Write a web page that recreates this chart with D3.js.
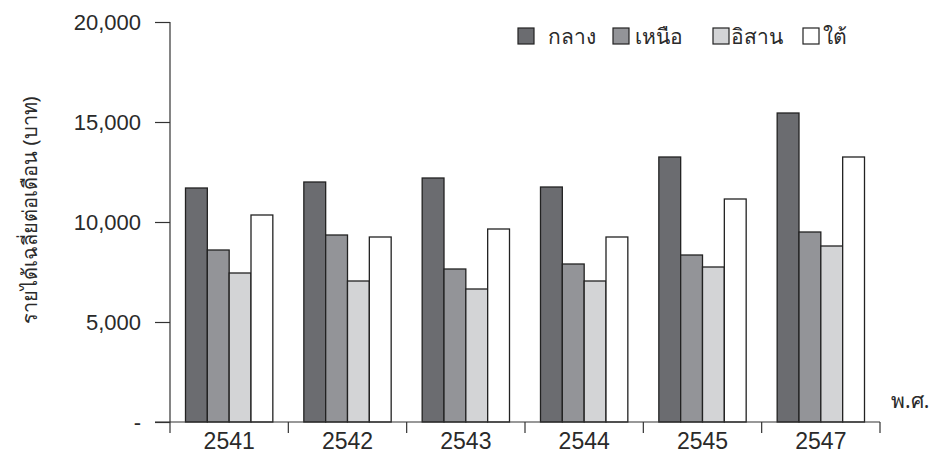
<!DOCTYPE html>
<html>
<head>
<meta charset="utf-8">
<script src="https://cdn.jsdelivr.net/npm/d3@7"></script>
<style>
  body { margin: 0; background: #fff; }
  svg { font-family: "Noto Sans", "Liberation Sans", sans-serif; }
</style>
</head>
<body>
<div id="viz"></div>
<script>
// data
let years = ['2541', '2542', '2543', '2544', '2545', '2547'];
let regions = ['กลาง', 'เหนือ', 'อิสาน', 'ใต้'];
let central = [11700, 12000, 12200, 11750, 13250, 15450];
let north = [8600, 9350, 7650, 7900, 8350, 9500];
let northeast = [7450, 7050, 6650, 7050, 7750, 8800];
let south = [10350, 9250, 9650, 9250, 11150, 13250];
let yTicks = [0, 5000, 10000, 15000, 20000];
let yTitle = 'รายได้เฉลี่ยต่อเดือน (บาท)';
let xTitle = 'พ.ศ.';

let series = [central, north, northeast, south];
let colors = ['#6b6c70', '#939498', '#d3d4d6', '#ffffff'];

let width = 937,
    height = 456,
    plotLeft = 170,
    plotRight = 880,
    plotTop = 22,
    plotBottom = 422;

let svg = d3.select('#viz').append('svg')
    .attr('width', width)
    .attr('height', height);

let yScale = d3.scaleLinear().domain([0, 20000]).range([plotBottom, plotTop]);
let xScale = d3.scaleBand().domain(years).range([plotLeft, plotRight]).padding(0);
let x1 = d3.scaleBand().domain(regions)
    .range([15.5, xScale.bandwidth() - 15.5]).padding(0);

// bars
let groups = svg.selectAll('g.year').data(years)
  .enter().append('g')
    .attr('class', 'year')
    .attr('transform', function(d) { return 'translate(' + xScale(d) + ',0)'; });

groups.selectAll('rect')
  .data(function(d, i) {
    return regions.map(function(r, j) { return {region: r, value: series[j][i], idx: j}; });
  })
  .enter().append('rect')
    .attr('x', function(d) { return x1(d.region); })
    .attr('y', function(d) { return yScale(d.value); })
    .attr('width', x1.bandwidth())
    .attr('height', function(d) { return plotBottom - yScale(d.value); })
    .style('fill', function(d) { return colors[d.idx]; })
    .style('stroke', '#222')
    .style('stroke-width', 1.3);

// y axis
let yAxis = d3.axisLeft(yScale)
    .tickValues(yTicks)
    .tickSize(15)
    .tickPadding(14)
    .tickFormat(function(d) { return d === 0 ? '-' : d3.format(',')(d); });

let yG = svg.append('g')
    .attr('transform', 'translate(' + plotLeft + ',0)')
    .call(yAxis);
yG.select('.domain').remove();
yG.selectAll('line').attr('stroke', '#333').attr('stroke-width', 1.2);
yG.selectAll('text').style('font-size', '22px').attr('fill', '#2a2a2a');
yG.append('line')
    .attr('x1', 0).attr('x2', 0)
    .attr('y1', plotTop).attr('y2', plotBottom + 11)
    .attr('stroke', '#333').attr('stroke-width', 1.2);

// x axis
let xG = svg.append('g')
    .attr('transform', 'translate(0,' + plotBottom + ')')
    .call(d3.axisBottom(xScale).tickSize(0).tickPadding(11));
xG.select('.domain').remove();
xG.selectAll('text')
    .style('font-family', '"Liberation Sans Narrow", "Liberation Sans", sans-serif')
    .style('font-size', '23px').attr('fill', '#2a2a2a');
xG.append('line')
    .attr('x1', plotLeft - 15).attr('x2', plotRight)
    .attr('y1', 0).attr('y2', 0)
    .attr('stroke', '#333').attr('stroke-width', 1.2);
xG.selectAll('line.sep').data(years.slice(1).concat(['end']))
  .enter().append('line')
    .attr('class', 'sep')
    .attr('x1', function(d) { return d === 'end' ? plotRight : xScale(d); })
    .attr('x2', function(d) { return d === 'end' ? plotRight : xScale(d); })
    .attr('y1', 0).attr('y2', 11)
    .attr('stroke', '#333').attr('stroke-width', 1.2);

svg.append('text')
    .attr('x', 891).attr('y', 408)
    .style('font-size', '21px').attr('fill', '#2a2a2a')
    .text(xTitle);

svg.append('text')
    .attr('transform', 'translate(37,' + 210 + ') rotate(-90)')
    .attr('text-anchor', 'middle')
    .style('font-size', '20px').attr('fill', '#2a2a2a')
    .text(yTitle);

// legend
let legendX = [518, 613, 713, 803];
let legendGap = [30, 22, 18, 20];
let legend = svg.selectAll('g.legend').data(regions)
  .enter().append('g')
    .attr('class', 'legend')
    .attr('transform', function(d, i) { return 'translate(' + legendX[i] + ',28)'; });
legend.append('rect')
    .attr('width', 16).attr('height', 16)
    .style('fill', function(d, i) { return colors[i]; })
    .style('stroke', '#222').style('stroke-width', 1.2);
legend.append('text')
    .attr('x', function(d, i) { return legendGap[i]; })
    .attr('y', 16)
    .style('font-size', '21px').attr('fill', '#2a2a2a')
    .text(function(d) { return d; });
</script>
</body>
</html>
